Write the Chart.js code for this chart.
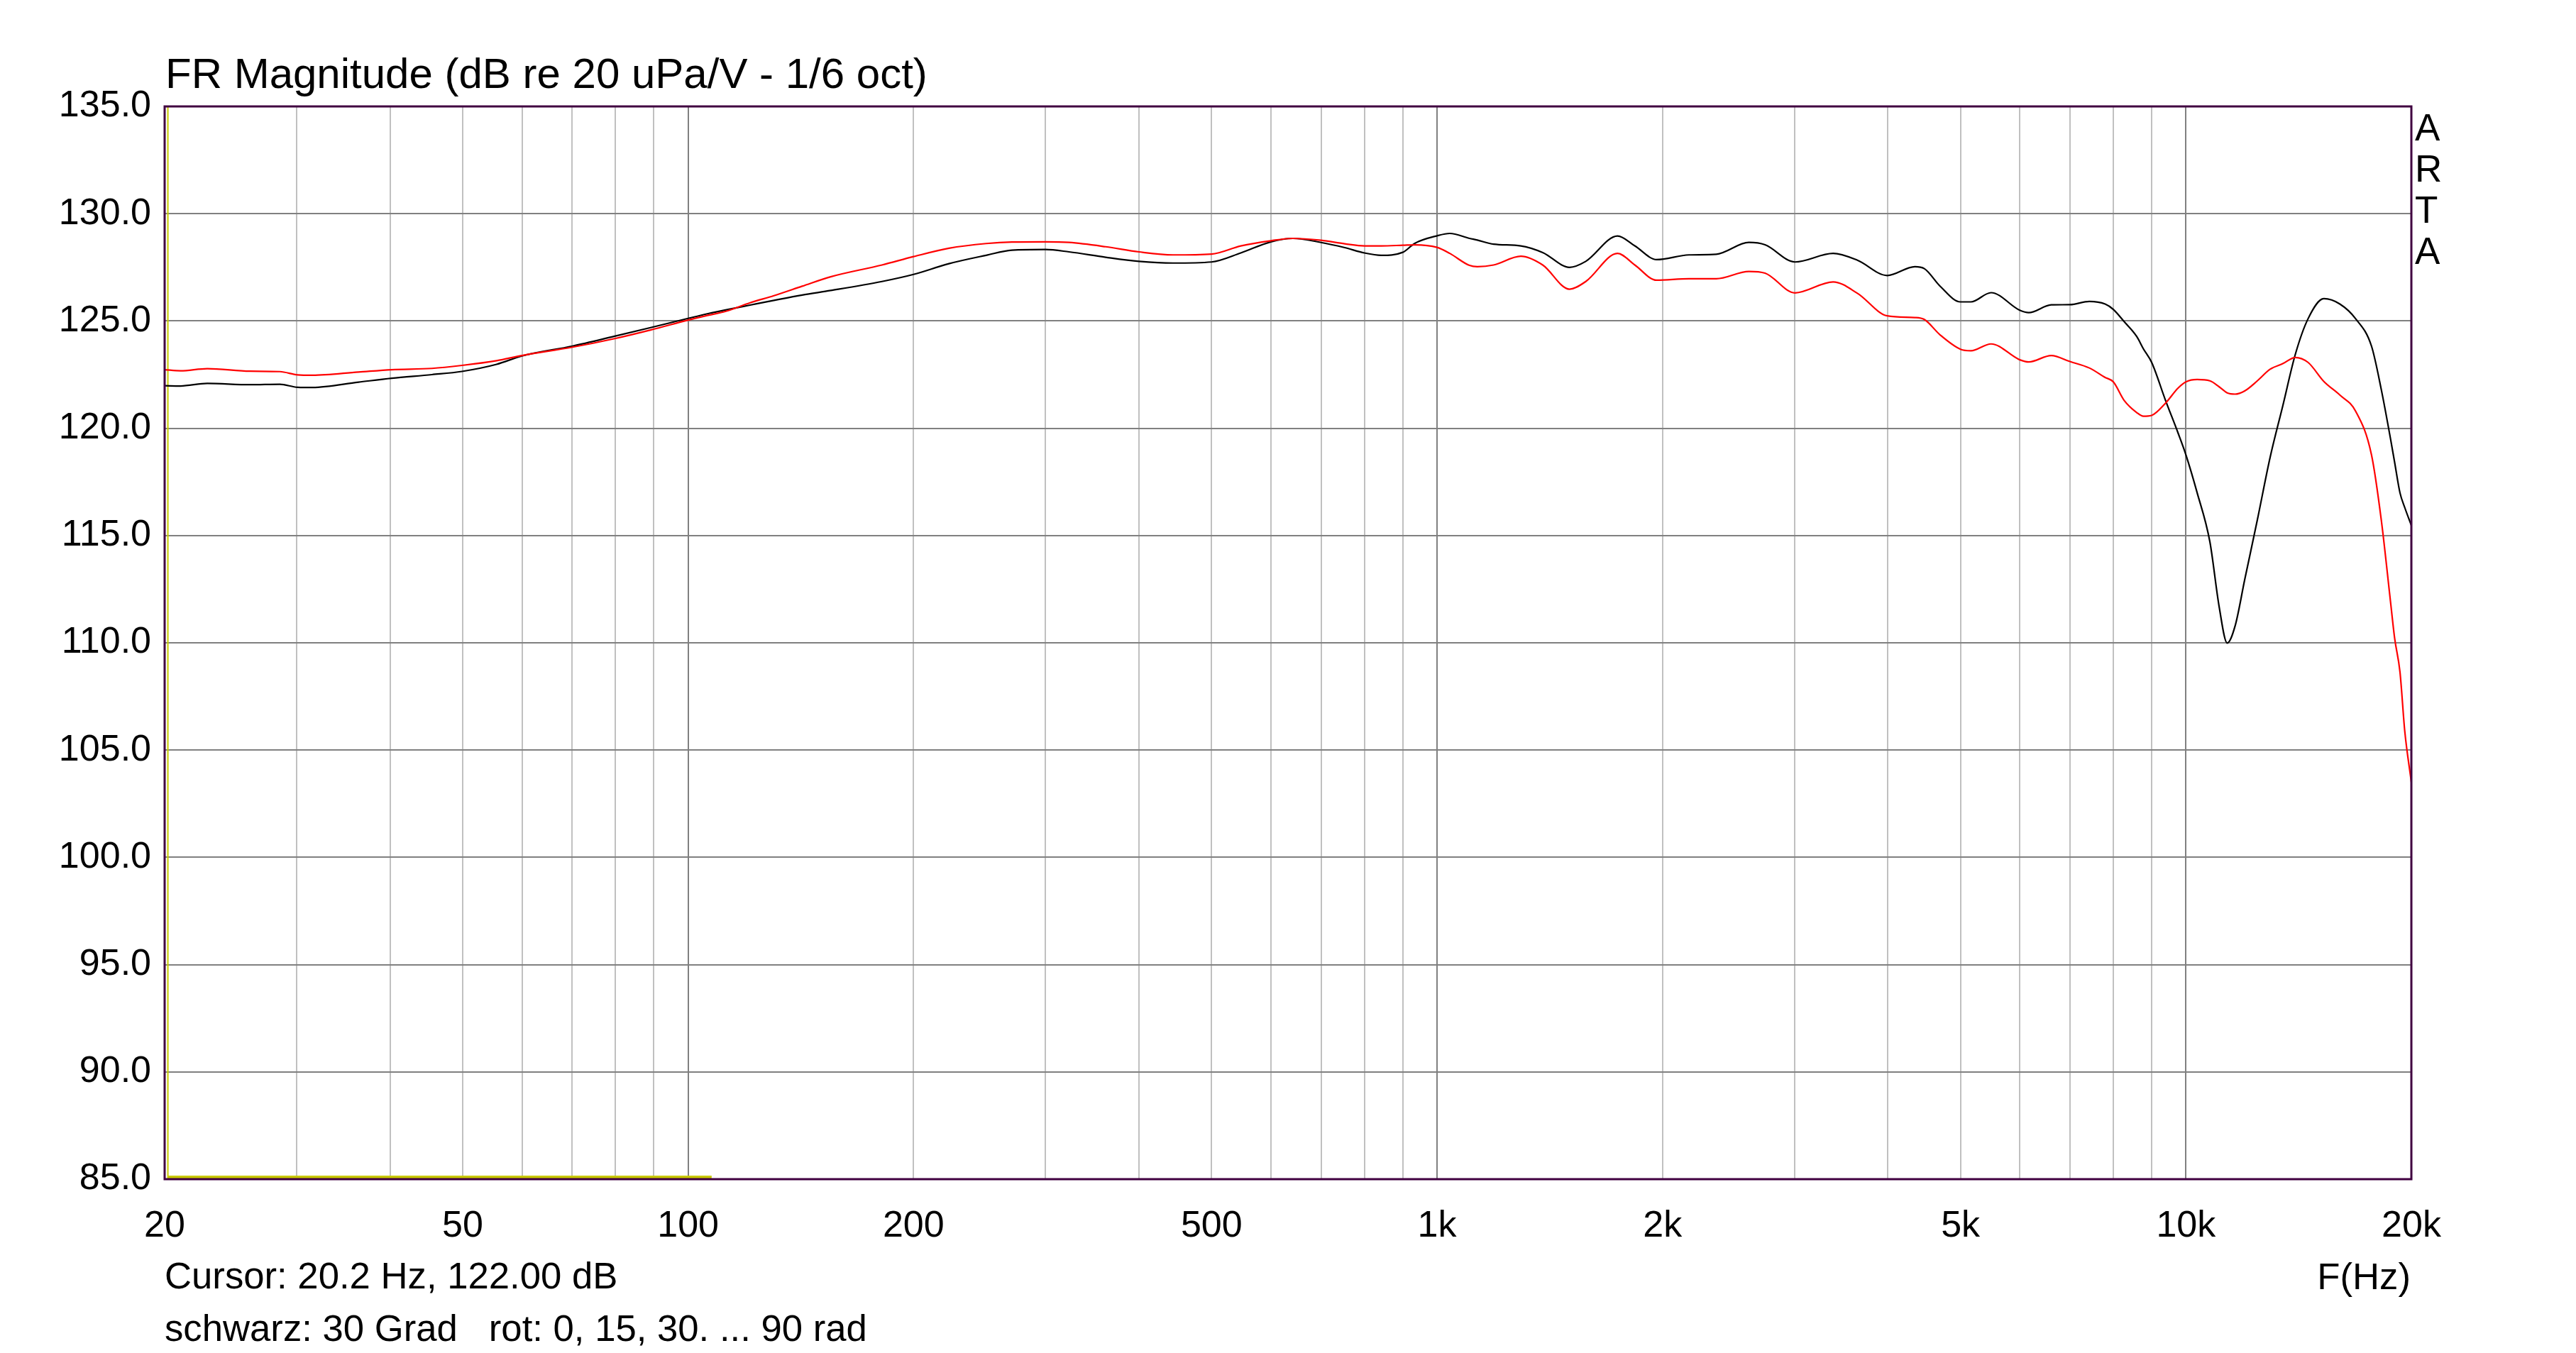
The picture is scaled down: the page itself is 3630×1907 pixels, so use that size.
<!DOCTYPE html>
<html><head><meta charset="utf-8">
<script src="https://cdn.jsdelivr.net/npm/chart.js@4.4.0/dist/chart.umd.min.js"></script>
<style>html,body{margin:0;padding:0;background:#fff;overflow:hidden}#wrap{width:3630px;height:1907px;position:relative}</style>
</head><body><div id="wrap"><canvas id="c" width="3630" height="1907"></canvas></div>
<script>
// ---------- data ----------
const freqHz = [20,21,22.8,26,28.5,30.1,31.5,36.3,40.2,45.5,49.9,55.5,60,70.1,79.6,89.1,100,105.6,112.5,121,130.2,142,155,181.5,200,223,250,270.6,300,322.6,361,400,444,500,547,600,642,700,753,800,842,900,934,1000,1040,1105,1132,1190,1294,1384,1503,1580,1742,1837,1964,2170,2360,2609,2742,3006,3380,3642,3992,4346,4474,4700,5000,5163,5493,6000,6168,6610,7000,7430,7800,8000,8270,8598,8775,9000,9392,9761,10000,10352,10764,11077,11353,11633,11981,12456,12954,13468,14000,14556,15284,16052,16854,17692,18232,18756,19000,19312,19600,20000];
const black30Grad = [121.98,121.97,122.09,122.03,122.05,121.91,121.90,122.15,122.33,122.50,122.65,122.98,123.37,123.83,124.28,124.69,125.12,125.32,125.52,125.74,125.96,126.21,126.42,126.84,127.17,127.67,128.06,128.30,128.33,128.22,127.97,127.78,127.70,127.75,128.17,128.69,128.85,128.66,128.42,128.17,128.06,128.20,128.62,128.97,129.08,128.85,128.77,128.58,128.50,128.19,127.50,127.78,128.96,128.50,127.86,128.08,128.11,128.66,128.55,127.75,128.15,127.83,127.12,127.53,127.44,126.61,125.89,125.89,126.32,125.50,125.39,125.75,125.76,125.91,125.79,125.54,124.97,124.27,123.70,123.07,121.30,119.78,118.76,116.99,114.71,111.67,109.99,110.79,112.94,115.73,118.64,121.04,123.45,125.10,126.04,125.79,125.10,123.83,121.81,119.52,118.40,116.99,116.30,115.47];
const rotMittel = [122.73,122.68,122.78,122.66,122.64,122.49,122.47,122.62,122.73,122.79,122.93,123.15,123.39,123.78,124.17,124.58,125.04,125.24,125.46,125.85,126.18,126.62,127.06,127.61,128.00,128.39,128.61,128.68,128.69,128.66,128.46,128.22,128.08,128.12,128.50,128.74,128.85,128.76,128.60,128.50,128.50,128.53,128.55,128.43,128.15,127.59,127.53,127.61,128.02,127.61,126.48,126.84,128.15,127.61,126.90,126.97,126.97,127.31,127.23,126.31,126.82,126.29,125.24,125.16,125.07,124.34,123.68,123.61,123.93,123.19,123.09,123.39,123.11,122.81,122.37,122.16,121.30,120.73,120.56,120.60,121.17,121.87,122.16,122.27,122.21,121.93,121.65,121.59,121.74,122.21,122.75,123.01,123.30,123.07,122.18,121.55,120.79,118.76,115.73,111.93,110.20,108.64,105.87,103.50];
const cursorFreq = 20.2;
const cursorDb = 122.00;
const cursorBandFreqs = [20.2, 107.5];
const cursorBandLevel = 85.1;
const yMin = 85, yMax = 135, yStep = 5;
const xMin = 20, xMax = 20000;
const xGridValues = [20,30,40,50,60,70,80,90,100,200,300,400,500,600,700,800,900,1000,2000,3000,4000,5000,6000,7000,8000,9000,10000,20000];
const xLabelValues = [20,50,100,200,500,1000,2000,5000,10000,20000];
const xLabelTexts = ['20','50','100','200','500','1k','2k','5k','10k','20k'];
const xMajorGrid = [100,1000,10000];
const titleText = 'FR Magnitude (dB re 20 uPa/V - 1/6 oct)';
const cursorText = 'Cursor: ' + cursorFreq.toFixed(1) + ' Hz, ' + cursorDb.toFixed(2) + ' dB';
const noteText = 'schwarz: 30 Grad   rot: 0, 15, 30. ... 90 rad';
const axisName = 'F(Hz)';
const brand = ['A','R','T','A'];

// ---------- chart ----------
const FONT = '"Liberation Sans", Arial, sans-serif';
const toPts = (xs, ys) => xs.map((x, i) => ({x: x, y: ys[i]}));

const textPlugin = {
  id: 'artaTexts',
  afterDraw(chart) {
    const ctx = chart.ctx, a = chart.chartArea;
    ctx.save();
    // frame
    ctx.strokeStyle = '#400040';
    ctx.lineWidth = 3;
    ctx.strokeRect(a.left, a.top, a.right - a.left, a.bottom - a.top);
    ctx.fillStyle = '#000';
    ctx.textBaseline = 'alphabetic';
    ctx.textAlign = 'left';
    ctx.font = '60px ' + FONT;
    ctx.fillText(titleText, a.left + 1, 124);
    ctx.font = '52.7px ' + FONT;
    ctx.fillText(cursorText, a.left, 1816);
    ctx.fillText(noteText, a.left, 1890);
    ctx.textAlign = 'right';
    ctx.fillText(axisName, a.right - 1, 1817);
    ctx.textAlign = 'left';
    ctx.font = '53px ' + FONT;
    brand.forEach((ch, i) => ctx.fillText(ch, a.right + 5, 198 + i * 58));
    ctx.restore();
  }
};

new Chart(document.getElementById('c'), {
  type: 'line',
  data: {
    datasets: [
      {label: 'rot', data: toPts(freqHz, rotMittel), borderColor: '#ff0000', borderWidth: 2.2, pointRadius: 0, cubicInterpolationMode: 'monotone', fill: false},
      {label: 'schwarz', data: toPts(freqHz, black30Grad), borderColor: '#000000', borderWidth: 2.2, pointRadius: 0, cubicInterpolationMode: 'monotone', fill: false},
      {label: 'cursor', data: [{x: cursorFreq, y: yMin}, {x: cursorFreq, y: yMax}], borderColor: '#c8c800', borderWidth: 2, pointRadius: 0, tension: 0},
      {label: 'band', data: cursorBandFreqs.map(f => ({x: f, y: cursorBandLevel})), borderColor: '#c8c800', borderWidth: 4, pointRadius: 0, tension: 0}
    ]
  },
  options: {
    responsive: false,
    animation: false,
    devicePixelRatio: 1,
    layout: {padding: {left: 0, top: 150, right: 232, bottom: 0}},
    plugins: {legend: {display: false}, tooltip: {enabled: false}, title: {display: false}},
    scales: {
      x: {
        type: 'logarithmic', min: xMin, max: xMax,
        afterBuildTicks: (s) => { s.ticks = xGridValues.map(v => ({value: v})); },
        afterFit: (s) => { s.height = 1907 - 1662; },
        border: {display: false},
        grid: {
          drawTicks: false, lineWidth: 2,
          color: (c) => (c.tick && xMajorGrid.includes(c.tick.value)) ? '#808080' : '#c0c0c0'
        },
        ticks: {
          autoSkip: false, maxRotation: 0, minRotation: 0, padding: 35,
          color: '#000', font: {family: FONT, size: 52},
          callback: (v) => { const i = xLabelValues.indexOf(v); return i >= 0 ? xLabelTexts[i] : ''; }
        }
      },
      y: {
        type: 'linear', min: yMin, max: yMax,
        afterFit: (s) => { s.width = 232; },
        border: {display: false},
        grid: {drawTicks: false, lineWidth: 2, color: '#808080'},
        ticks: {
          stepSize: yStep, padding: 19, color: '#000', font: {family: FONT, size: 52},
          callback: (v) => Number(v).toFixed(1)
        }
      }
    }
  },
  plugins: [textPlugin]
});
</script></body></html>
